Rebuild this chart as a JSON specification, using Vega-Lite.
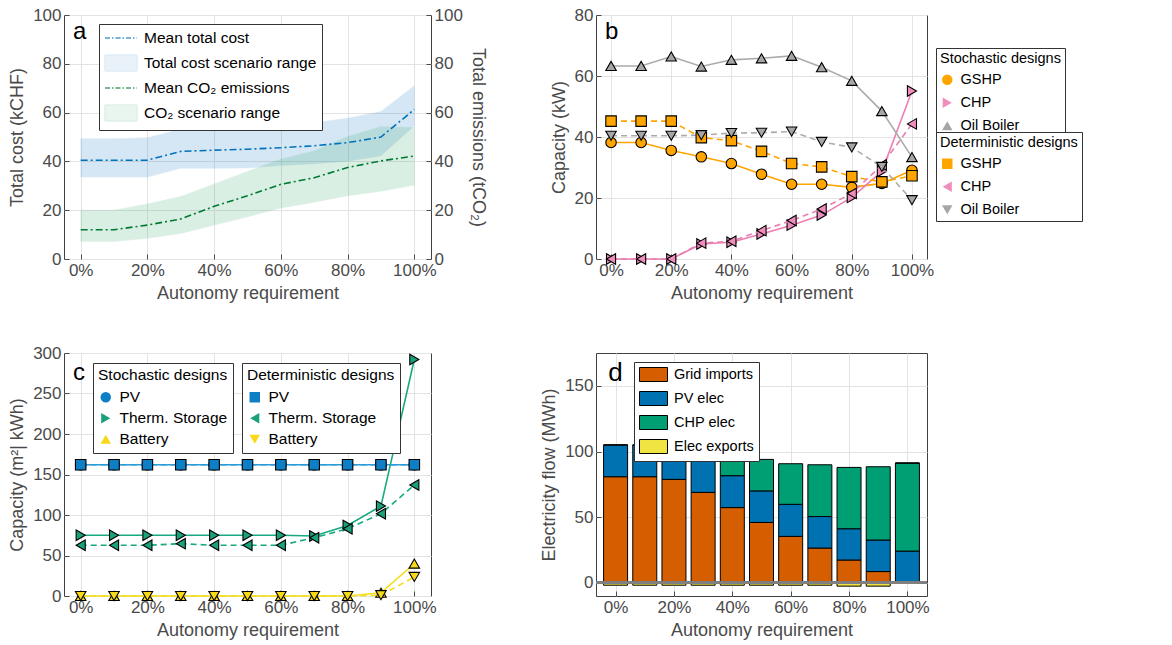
{
  "$schema": "https://vega.github.io/schema/vega-lite/v6.json",
  "padding": {"left": 8, "top": 5, "right": 0, "bottom": 0},
  "datasets": {
    "a": [
      {"x": 0, "cost_mean": 40.5, "cost_lo": 33.6, "cost_hi": 49.3, "co2_mean": 12, "co2_lo": 7.2, "co2_hi": 20},
      {"x": 10, "cost_mean": 40.5, "cost_lo": 33.6, "cost_hi": 49.3, "co2_mean": 12, "co2_lo": 7.2, "co2_hi": 20},
      {"x": 20, "cost_mean": 40.5, "cost_lo": 33.6, "cost_hi": 49.7, "co2_mean": 13.9, "co2_lo": 8.5, "co2_hi": 22.5},
      {"x": 30, "cost_mean": 44.1, "cost_lo": 37.2, "cost_hi": 53.2, "co2_mean": 16.4, "co2_lo": 10.5, "co2_hi": 25.6},
      {"x": 40, "cost_mean": 44.6, "cost_lo": 37.2, "cost_hi": 53.6, "co2_mean": 21.6, "co2_lo": 13.9, "co2_hi": 30.7},
      {"x": 50, "cost_mean": 45, "cost_lo": 37.3, "cost_hi": 54.2, "co2_mean": 25.9, "co2_lo": 17.3, "co2_hi": 35.9},
      {"x": 60, "cost_mean": 45.6, "cost_lo": 38.3, "cost_hi": 54.7, "co2_mean": 30.6, "co2_lo": 20.9, "co2_hi": 40.9},
      {"x": 70, "cost_mean": 46.4, "cost_lo": 39, "cost_hi": 55.8, "co2_mean": 33.3, "co2_lo": 23.3, "co2_hi": 44.3},
      {"x": 80, "cost_mean": 47.7, "cost_lo": 40.1, "cost_hi": 57.7, "co2_mean": 37.5, "co2_lo": 25.9, "co2_hi": 50.2},
      {"x": 90, "cost_mean": 50, "cost_lo": 42.3, "cost_hi": 60.4, "co2_mean": 40.2, "co2_lo": 27.8, "co2_hi": 54.2},
      {"x": 100, "cost_mean": 61.3, "cost_lo": 54.6, "cost_hi": 71, "co2_mean": 42.2, "co2_lo": 30.3, "co2_hi": 53.9}
    ],
    "b": [
      {"x": 0, "tech": "GSHP", "design": "Stochastic", "v": 38.2},
      {"x": 10, "tech": "GSHP", "design": "Stochastic", "v": 38.2},
      {"x": 20, "tech": "GSHP", "design": "Stochastic", "v": 35.6},
      {"x": 30, "tech": "GSHP", "design": "Stochastic", "v": 33.5},
      {"x": 40, "tech": "GSHP", "design": "Stochastic", "v": 31.3},
      {"x": 50, "tech": "GSHP", "design": "Stochastic", "v": 27.8},
      {"x": 60, "tech": "GSHP", "design": "Stochastic", "v": 24.5},
      {"x": 70, "tech": "GSHP", "design": "Stochastic", "v": 24.5},
      {"x": 80, "tech": "GSHP", "design": "Stochastic", "v": 23.5},
      {"x": 90, "tech": "GSHP", "design": "Stochastic", "v": 24.8},
      {"x": 100, "tech": "GSHP", "design": "Stochastic", "v": 29.1},
      {"x": 0, "tech": "CHP", "design": "Stochastic", "v": 0},
      {"x": 10, "tech": "CHP", "design": "Stochastic", "v": 0},
      {"x": 20, "tech": "CHP", "design": "Stochastic", "v": 0},
      {"x": 30, "tech": "CHP", "design": "Stochastic", "v": 4.9},
      {"x": 40, "tech": "CHP", "design": "Stochastic", "v": 5.5},
      {"x": 50, "tech": "CHP", "design": "Stochastic", "v": 8.2},
      {"x": 60, "tech": "CHP", "design": "Stochastic", "v": 11.1},
      {"x": 70, "tech": "CHP", "design": "Stochastic", "v": 14.4},
      {"x": 80, "tech": "CHP", "design": "Stochastic", "v": 20.2},
      {"x": 90, "tech": "CHP", "design": "Stochastic", "v": 28.7},
      {"x": 100, "tech": "CHP", "design": "Stochastic", "v": 55.1},
      {"x": 0, "tech": "Oil Boiler", "design": "Stochastic", "v": 63.3},
      {"x": 10, "tech": "Oil Boiler", "design": "Stochastic", "v": 63.3},
      {"x": 20, "tech": "Oil Boiler", "design": "Stochastic", "v": 66.4},
      {"x": 30, "tech": "Oil Boiler", "design": "Stochastic", "v": 63.1},
      {"x": 40, "tech": "Oil Boiler", "design": "Stochastic", "v": 65.3},
      {"x": 50, "tech": "Oil Boiler", "design": "Stochastic", "v": 65.8},
      {"x": 60, "tech": "Oil Boiler", "design": "Stochastic", "v": 66.6},
      {"x": 70, "tech": "Oil Boiler", "design": "Stochastic", "v": 62.9},
      {"x": 80, "tech": "Oil Boiler", "design": "Stochastic", "v": 58.4},
      {"x": 90, "tech": "Oil Boiler", "design": "Stochastic", "v": 48.5},
      {"x": 100, "tech": "Oil Boiler", "design": "Stochastic", "v": 33.4},
      {"x": 0, "tech": "GSHP", "design": "Deterministic", "v": 45.2},
      {"x": 10, "tech": "GSHP", "design": "Deterministic", "v": 45.2},
      {"x": 20, "tech": "GSHP", "design": "Deterministic", "v": 45.2},
      {"x": 30, "tech": "GSHP", "design": "Deterministic", "v": 39.8},
      {"x": 40, "tech": "GSHP", "design": "Deterministic", "v": 38.8},
      {"x": 50, "tech": "GSHP", "design": "Deterministic", "v": 35.3},
      {"x": 60, "tech": "GSHP", "design": "Deterministic", "v": 31.3},
      {"x": 70, "tech": "GSHP", "design": "Deterministic", "v": 30.2},
      {"x": 80, "tech": "GSHP", "design": "Deterministic", "v": 27},
      {"x": 90, "tech": "GSHP", "design": "Deterministic", "v": 25.3},
      {"x": 100, "tech": "GSHP", "design": "Deterministic", "v": 27.3},
      {"x": 0, "tech": "CHP", "design": "Deterministic", "v": 0},
      {"x": 10, "tech": "CHP", "design": "Deterministic", "v": 0},
      {"x": 20, "tech": "CHP", "design": "Deterministic", "v": 0},
      {"x": 30, "tech": "CHP", "design": "Deterministic", "v": 5.2},
      {"x": 40, "tech": "CHP", "design": "Deterministic", "v": 5.8},
      {"x": 50, "tech": "CHP", "design": "Deterministic", "v": 9.3},
      {"x": 60, "tech": "CHP", "design": "Deterministic", "v": 12.6},
      {"x": 70, "tech": "CHP", "design": "Deterministic", "v": 16.4},
      {"x": 80, "tech": "CHP", "design": "Deterministic", "v": 21.5},
      {"x": 90, "tech": "CHP", "design": "Deterministic", "v": 30.8},
      {"x": 100, "tech": "CHP", "design": "Deterministic", "v": 44.3},
      {"x": 0, "tech": "Oil Boiler", "design": "Deterministic", "v": 40.4},
      {"x": 10, "tech": "Oil Boiler", "design": "Deterministic", "v": 40.4},
      {"x": 20, "tech": "Oil Boiler", "design": "Deterministic", "v": 40.4},
      {"x": 30, "tech": "Oil Boiler", "design": "Deterministic", "v": 40.6},
      {"x": 40, "tech": "Oil Boiler", "design": "Deterministic", "v": 41.3},
      {"x": 50, "tech": "Oil Boiler", "design": "Deterministic", "v": 41.4},
      {"x": 60, "tech": "Oil Boiler", "design": "Deterministic", "v": 41.8},
      {"x": 70, "tech": "Oil Boiler", "design": "Deterministic", "v": 38.4},
      {"x": 80, "tech": "Oil Boiler", "design": "Deterministic", "v": 36.6},
      {"x": 90, "tech": "Oil Boiler", "design": "Deterministic", "v": 30.2},
      {"x": 100, "tech": "Oil Boiler", "design": "Deterministic", "v": 19.3}
    ],
    "c": [
      {"x": 0, "tech": "PV", "design": "Stochastic", "v": 162},
      {"x": 10, "tech": "PV", "design": "Stochastic", "v": 162},
      {"x": 20, "tech": "PV", "design": "Stochastic", "v": 162},
      {"x": 30, "tech": "PV", "design": "Stochastic", "v": 162},
      {"x": 40, "tech": "PV", "design": "Stochastic", "v": 162},
      {"x": 50, "tech": "PV", "design": "Stochastic", "v": 162},
      {"x": 60, "tech": "PV", "design": "Stochastic", "v": 162},
      {"x": 70, "tech": "PV", "design": "Stochastic", "v": 162},
      {"x": 80, "tech": "PV", "design": "Stochastic", "v": 162},
      {"x": 90, "tech": "PV", "design": "Stochastic", "v": 162},
      {"x": 100, "tech": "PV", "design": "Stochastic", "v": 162},
      {"x": 0, "tech": "Therm. Storage", "design": "Stochastic", "v": 75},
      {"x": 10, "tech": "Therm. Storage", "design": "Stochastic", "v": 75},
      {"x": 20, "tech": "Therm. Storage", "design": "Stochastic", "v": 75},
      {"x": 30, "tech": "Therm. Storage", "design": "Stochastic", "v": 75},
      {"x": 40, "tech": "Therm. Storage", "design": "Stochastic", "v": 75},
      {"x": 50, "tech": "Therm. Storage", "design": "Stochastic", "v": 75},
      {"x": 60, "tech": "Therm. Storage", "design": "Stochastic", "v": 75},
      {"x": 70, "tech": "Therm. Storage", "design": "Stochastic", "v": 74},
      {"x": 80, "tech": "Therm. Storage", "design": "Stochastic", "v": 87},
      {"x": 90, "tech": "Therm. Storage", "design": "Stochastic", "v": 111},
      {"x": 100, "tech": "Therm. Storage", "design": "Stochastic", "v": 292},
      {"x": 0, "tech": "Battery", "design": "Stochastic", "v": 0},
      {"x": 10, "tech": "Battery", "design": "Stochastic", "v": 0},
      {"x": 20, "tech": "Battery", "design": "Stochastic", "v": 0},
      {"x": 30, "tech": "Battery", "design": "Stochastic", "v": 0},
      {"x": 40, "tech": "Battery", "design": "Stochastic", "v": 0},
      {"x": 50, "tech": "Battery", "design": "Stochastic", "v": 0},
      {"x": 60, "tech": "Battery", "design": "Stochastic", "v": 0},
      {"x": 70, "tech": "Battery", "design": "Stochastic", "v": 0},
      {"x": 80, "tech": "Battery", "design": "Stochastic", "v": 0},
      {"x": 90, "tech": "Battery", "design": "Stochastic", "v": 4},
      {"x": 100, "tech": "Battery", "design": "Stochastic", "v": 40},
      {"x": 0, "tech": "PV", "design": "Deterministic", "v": 162},
      {"x": 10, "tech": "PV", "design": "Deterministic", "v": 162},
      {"x": 20, "tech": "PV", "design": "Deterministic", "v": 162},
      {"x": 30, "tech": "PV", "design": "Deterministic", "v": 162},
      {"x": 40, "tech": "PV", "design": "Deterministic", "v": 162},
      {"x": 50, "tech": "PV", "design": "Deterministic", "v": 162},
      {"x": 60, "tech": "PV", "design": "Deterministic", "v": 162},
      {"x": 70, "tech": "PV", "design": "Deterministic", "v": 162},
      {"x": 80, "tech": "PV", "design": "Deterministic", "v": 162},
      {"x": 90, "tech": "PV", "design": "Deterministic", "v": 162},
      {"x": 100, "tech": "PV", "design": "Deterministic", "v": 162},
      {"x": 0, "tech": "Therm. Storage", "design": "Deterministic", "v": 62.6},
      {"x": 10, "tech": "Therm. Storage", "design": "Deterministic", "v": 62.6},
      {"x": 20, "tech": "Therm. Storage", "design": "Deterministic", "v": 62.6},
      {"x": 30, "tech": "Therm. Storage", "design": "Deterministic", "v": 64.6},
      {"x": 40, "tech": "Therm. Storage", "design": "Deterministic", "v": 62.6},
      {"x": 50, "tech": "Therm. Storage", "design": "Deterministic", "v": 62.6},
      {"x": 60, "tech": "Therm. Storage", "design": "Deterministic", "v": 62.6},
      {"x": 70, "tech": "Therm. Storage", "design": "Deterministic", "v": 72},
      {"x": 80, "tech": "Therm. Storage", "design": "Deterministic", "v": 83},
      {"x": 90, "tech": "Therm. Storage", "design": "Deterministic", "v": 101.6},
      {"x": 100, "tech": "Therm. Storage", "design": "Deterministic", "v": 137},
      {"x": 0, "tech": "Battery", "design": "Deterministic", "v": 0},
      {"x": 10, "tech": "Battery", "design": "Deterministic", "v": 0},
      {"x": 20, "tech": "Battery", "design": "Deterministic", "v": 0},
      {"x": 30, "tech": "Battery", "design": "Deterministic", "v": 0},
      {"x": 40, "tech": "Battery", "design": "Deterministic", "v": 0},
      {"x": 50, "tech": "Battery", "design": "Deterministic", "v": 0},
      {"x": 60, "tech": "Battery", "design": "Deterministic", "v": 0},
      {"x": 70, "tech": "Battery", "design": "Deterministic", "v": 0},
      {"x": 80, "tech": "Battery", "design": "Deterministic", "v": 0},
      {"x": 90, "tech": "Battery", "design": "Deterministic", "v": 1},
      {"x": 100, "tech": "Battery", "design": "Deterministic", "v": 23.5}
    ],
    "d": [
      {"x": 0, "flow": "Grid imports", "v": 80.8}, {"x": 0, "flow": "PV elec", "v": 24.2}, {"x": 0, "flow": "CHP elec", "v": 0}, {"x": 0, "flow": "Elec exports", "v": -1.8},
      {"x": 10, "flow": "Grid imports", "v": 80.8}, {"x": 10, "flow": "PV elec", "v": 24.2}, {"x": 10, "flow": "CHP elec", "v": 0}, {"x": 10, "flow": "Elec exports", "v": -1.8},
      {"x": 20, "flow": "Grid imports", "v": 78.8}, {"x": 20, "flow": "PV elec", "v": 24.2}, {"x": 20, "flow": "CHP elec", "v": 0}, {"x": 20, "flow": "Elec exports", "v": -1.8},
      {"x": 30, "flow": "Grid imports", "v": 68.9}, {"x": 30, "flow": "PV elec", "v": 24.3}, {"x": 30, "flow": "CHP elec", "v": 8.3}, {"x": 30, "flow": "Elec exports", "v": -1.8},
      {"x": 40, "flow": "Grid imports", "v": 57.3}, {"x": 40, "flow": "PV elec", "v": 24.3}, {"x": 40, "flow": "CHP elec", "v": 15.9}, {"x": 40, "flow": "Elec exports", "v": -1.8},
      {"x": 50, "flow": "Grid imports", "v": 46}, {"x": 50, "flow": "PV elec", "v": 24}, {"x": 50, "flow": "CHP elec", "v": 24}, {"x": 50, "flow": "Elec exports", "v": -1.8},
      {"x": 60, "flow": "Grid imports", "v": 35.4}, {"x": 60, "flow": "PV elec", "v": 24.4}, {"x": 60, "flow": "CHP elec", "v": 30.9}, {"x": 60, "flow": "Elec exports", "v": -1.8},
      {"x": 70, "flow": "Grid imports", "v": 26.5}, {"x": 70, "flow": "PV elec", "v": 24}, {"x": 70, "flow": "CHP elec", "v": 39.4}, {"x": 70, "flow": "Elec exports", "v": -1.8},
      {"x": 80, "flow": "Grid imports", "v": 17.4}, {"x": 80, "flow": "PV elec", "v": 23.8}, {"x": 80, "flow": "CHP elec", "v": 46.7}, {"x": 80, "flow": "Elec exports", "v": -2.5},
      {"x": 90, "flow": "Grid imports", "v": 8.6}, {"x": 90, "flow": "PV elec", "v": 24}, {"x": 90, "flow": "CHP elec", "v": 55.8}, {"x": 90, "flow": "Elec exports", "v": -2.5},
      {"x": 100, "flow": "Grid imports", "v": 0}, {"x": 100, "flow": "PV elec", "v": 24.2}, {"x": 100, "flow": "CHP elec", "v": 67}, {"x": 100, "flow": "Elec exports", "v": 0}
    ]
  },
  "vconcat": [
    {
      "hconcat": [
        {
          "width": 367, "height": 244,
          "data": {"name": "a"},
          "layer": [
            {
              "layer": [
                {
                  "mark": {"type": "area", "color": "#0072BD", "opacity": 0.16, "stroke": "#0072BD", "strokeOpacity": 0.45, "strokeWidth": 1},
                  "encoding": {
                    "x": {"field": "x", "type": "quantitative", "scale": {"domain": [-5, 105], "nice": false, "zero": false}, "axis": {"values": [0, 10, 20, 30, 40, 50, 60, 70, 80, 90, 100], "labelExpr": "datum.value % 20 === 0 ? datum.value + '%' : ''", "labelOverlap": false, "labelFlush": false}, "title": "Autonomy requirement"},
                    "y": {"field": "cost_hi", "type": "quantitative", "scale": {"domain": [0, 100], "nice": false}, "axis": {"values": [0, 20, 40, 60, 80, 100]}, "title": "Total cost (kCHF)"},
                    "y2": {"field": "cost_lo"}
                  }
                },
                {
                  "mark": {"type": "area", "color": "#2ca25f", "opacity": 0.17, "stroke": "#2ca25f", "strokeOpacity": 0.5, "strokeWidth": 1},
                  "encoding": {
                    "x": {"field": "x", "type": "quantitative", "title": "Autonomy requirement"},
                    "y": {"field": "co2_hi", "type": "quantitative", "title": "Total cost (kCHF)"},
                    "y2": {"field": "co2_lo"}
                  }
                },
                {
                  "mark": {"type": "line", "color": "#0072BD", "strokeWidth": 1.6, "strokeDash": [7, 3, 2, 3]},
                  "encoding": {
                    "x": {"field": "x", "type": "quantitative", "title": "Autonomy requirement"},
                    "y": {"field": "cost_mean", "type": "quantitative", "title": "Total cost (kCHF)"}
                  }
                },
                {
                  "transform": [{"filter": "datum.x > 1000"}],
                  "mark": {"type": "point", "filled": true},
                  "encoding": {
                    "x": {"field": "x", "type": "quantitative", "title": "Autonomy requirement"},
                    "y": {"field": "cost_mean", "type": "quantitative", "title": "Total cost (kCHF)"},
                    "shape": {"field": "series", "type": "nominal", "scale": {"domain": ["Mean total cost", "Total cost scenario range", "Mean CO₂ emissions", "CO₂ scenario range"], "range": ["M-1,0H3", "M-1,-1H3V1H-1Z", "M-1,0H3", "M-1,-1H3V1H-1Z"]}, "legend": {"title": null, "orient": "none", "legendX": 35, "legendY": 9, "symbolSize": 256, "labelFontSize": 15.5, "labelLimit": 400, "labelOffset": 22, "rowPadding": 4, "padding": 5, "symbolStrokeWidth": 1.6, "strokeColor": "#333333", "fillColor": "white"}},
                    "fill": {"field": "series", "type": "nominal", "scale": {"domain": ["Mean total cost", "Total cost scenario range", "Mean CO₂ emissions", "CO₂ scenario range"], "range": ["transparent", "#d6e6f4", "transparent", "#d4ecdf"]}},
                    "stroke": {"field": "series", "type": "nominal", "scale": {"domain": ["Mean total cost", "Total cost scenario range", "Mean CO₂ emissions", "CO₂ scenario range"], "range": ["#0072BD", "#d6e6f4", "#007a33", "#d4ecdf"]}},
                    "strokeDash": {"field": "series", "type": "nominal", "scale": {"domain": ["Mean total cost", "Total cost scenario range", "Mean CO₂ emissions", "CO₂ scenario range"], "range": [[5, 2, 1.5, 2], [1, 0], [5, 2, 1.5, 2], [1, 0]]}}
                  }
                },
                {
                  "data": {"values": [{"label": "a"}]},
                  "mark": {"type": "text", "fontSize": 24, "align": "left", "baseline": "middle", "color": "black"},
                  "encoding": {
                    "x": {"datum": -2.3},
                    "y": {"datum": 93},
                    "text": {"field": "label"}
                  }
                }
              ]
            },
            {
              "mark": {"type": "line", "color": "#007a33", "strokeWidth": 1.6, "strokeDash": [7, 3, 2, 3]},
              "encoding": {
                "x": {"field": "x", "type": "quantitative", "title": "Autonomy requirement"},
                "y": {"field": "co2_mean", "type": "quantitative", "scale": {"domain": [0, 100], "nice": false}, "axis": {"orient": "right", "values": [0, 20, 40, 60, 80, 100], "grid": false}, "title": "Total emissions (tCO₂)"}
              }
            }
          ],
          "resolve": {"scale": {"y": "independent"}}
        },
        {
          "width": 331, "height": 244,
          "data": {"name": "b"},
          "layer": [
            {
              "transform": [{"filter": "datum.design === 'Stochastic'"}],
              "layer": [
                {
                  "mark": {"type": "line", "strokeWidth": 1.6},
                  "encoding": {
                    "x": {"field": "x", "type": "quantitative", "scale": {"domain": [-5, 105], "nice": false, "zero": false}, "axis": {"values": [0, 10, 20, 30, 40, 50, 60, 70, 80, 90, 100], "labelExpr": "datum.value % 20 === 0 ? datum.value + '%' : ''", "labelOverlap": false, "labelFlush": false}, "title": "Autonomy requirement"},
                    "y": {"field": "v", "type": "quantitative", "scale": {"domain": [0, 80], "nice": false}, "axis": {"values": [0, 20, 40, 60, 80]}, "title": "Capacity (kW)"},
                    "stroke": {"field": "tech", "type": "nominal", "scale": {"domain": ["GSHP", "CHP", "Oil Boiler"], "range": ["#FFA500", "#EA7FB1", "#ABABAB"]}, "legend": null}
                  }
                },
                {
                  "mark": {"type": "point", "filled": true, "size": 110, "stroke": "black", "strokeWidth": 1.1, "opacity": 1},
                  "encoding": {
                    "x": {"field": "x", "type": "quantitative", "title": "Autonomy requirement"},
                    "y": {"field": "v", "type": "quantitative", "title": "Capacity (kW)"},
                    "fill": {"field": "tech", "type": "nominal", "scale": {"domain": ["GSHP", "CHP", "Oil Boiler"], "range": ["#FFA500", "#F08DBD", "#A6A6A6"]}, "legend": {"title": "Stochastic designs", "orient": "none", "legendX": 340, "legendY": 33, "labelFontSize": 14.5, "titleFontSize": 14.5, "rowPadding": 7, "padding": 4, "titlePadding": 6, "symbolStrokeColor": "black", "encode": {"symbols": {"update": {"stroke": {"value": "black"}, "strokeWidth": {"value": 1.1}}}}}},
                    "shape": {"field": "tech", "type": "nominal", "scale": {"domain": ["GSHP", "CHP", "Oil Boiler"], "range": ["circle", "triangle-right", "triangle-up"]}, "legend": {"title": "Stochastic designs", "orient": "none", "legendX": 340, "legendY": 33, "labelFontSize": 14.5, "titleFontSize": 14.5, "rowPadding": 7, "padding": 4, "titlePadding": 6, "symbolStrokeColor": "black", "encode": {"symbols": {"update": {"stroke": {"value": "black"}, "strokeWidth": {"value": 1.1}}}}}}
                  }
                }
              ],
              "resolve": {"scale": {"stroke": "independent"}}
            },
            {
              "transform": [{"filter": "datum.design === 'Deterministic'"}],
              "layer": [
                {
                  "mark": {"type": "line", "strokeWidth": 1.6, "strokeDash": [6, 4]},
                  "encoding": {
                    "x": {"field": "x", "type": "quantitative", "title": "Autonomy requirement"},
                    "y": {"field": "v", "type": "quantitative", "title": "Capacity (kW)"},
                    "stroke": {"field": "tech", "type": "nominal", "scale": {"domain": ["GSHP", "CHP", "Oil Boiler"], "range": ["#FFA500", "#EA7FB1", "#ABABAB"]}, "legend": null}
                  }
                },
                {
                  "mark": {"type": "point", "filled": true, "size": 110, "stroke": "black", "strokeWidth": 1.1, "opacity": 1},
                  "encoding": {
                    "x": {"field": "x", "type": "quantitative", "title": "Autonomy requirement"},
                    "y": {"field": "v", "type": "quantitative", "title": "Capacity (kW)"},
                    "fill": {"field": "tech", "type": "nominal", "scale": {"domain": ["GSHP", "CHP", "Oil Boiler"], "range": ["#FFA500", "#F08DBD", "#A6A6A6"]}, "legend": {"title": "Deterministic designs", "orient": "none", "legendX": 340, "legendY": 117, "labelFontSize": 14.5, "titleFontSize": 14.5, "rowPadding": 7, "padding": 4, "titlePadding": 6, "symbolStrokeColor": "black", "encode": {"symbols": {"update": {"stroke": {"value": "black"}, "strokeWidth": {"value": 1.1}}}}}},
                    "shape": {"field": "tech", "type": "nominal", "scale": {"domain": ["GSHP", "CHP", "Oil Boiler"], "range": ["square", "triangle-left", "triangle-down"]}, "legend": {"title": "Deterministic designs", "orient": "none", "legendX": 340, "legendY": 117, "labelFontSize": 14.5, "titleFontSize": 14.5, "rowPadding": 7, "padding": 4, "titlePadding": 6, "symbolStrokeColor": "black", "encode": {"symbols": {"update": {"stroke": {"value": "black"}, "strokeWidth": {"value": 1.1}}}}}}
                  }
                }
              ],
              "resolve": {"scale": {"stroke": "independent"}}
            },
            {
              "data": {"values": [{"label": "b"}]},
              "mark": {"type": "text", "fontSize": 24, "align": "left", "baseline": "middle", "color": "black"},
              "encoding": {
                "x": {"datum": -2},
                "y": {"datum": 74.5},
                "text": {"field": "label"}
              }
            }
          ],
          "resolve": {"scale": {"fill": "independent", "shape": "independent", "stroke": "independent"}}
        }
      ],
      "spacing": 62,
      "resolve": {"scale": {"fill": "independent", "shape": "independent", "stroke": "independent", "strokeDash": "independent"}}
    },
    {
      "hconcat": [
        {
          "width": 367, "height": 243,
          "data": {"name": "c"},
          "layer": [
            {
              "transform": [{"filter": "datum.design === 'Stochastic'"}],
              "layer": [
                {
                  "mark": {"type": "line", "strokeWidth": 1.6},
                  "encoding": {
                    "x": {"field": "x", "type": "quantitative", "scale": {"domain": [-5, 105], "nice": false, "zero": false}, "axis": {"values": [0, 10, 20, 30, 40, 50, 60, 70, 80, 90, 100], "labelExpr": "datum.value % 20 === 0 ? datum.value + '%' : ''", "labelOverlap": false, "labelFlush": false}, "title": "Autonomy requirement"},
                    "y": {"field": "v", "type": "quantitative", "scale": {"domain": [0, 300], "nice": false}, "axis": {"values": [0, 50, 100, 150, 200, 250, 300]}, "title": "Capacity (m²| kWh)"},
                    "stroke": {"field": "tech", "type": "nominal", "scale": {"domain": ["PV", "Therm. Storage", "Battery"], "range": ["#2A9CD8", "#17AA80", "#F4DE1E"]}, "legend": null}
                  }
                },
                {
                  "mark": {"type": "point", "filled": true, "size": 110, "stroke": "black", "strokeWidth": 1.1, "opacity": 1},
                  "encoding": {
                    "x": {"field": "x", "type": "quantitative", "title": "Autonomy requirement"},
                    "y": {"field": "v", "type": "quantitative", "title": "Capacity (m²| kWh)"},
                    "fill": {"field": "tech", "type": "nominal", "scale": {"domain": ["PV", "Therm. Storage", "Battery"], "range": ["#0E7FC4", "#1AA07A", "#F7D91A"]}, "legend": {"title": "Stochastic designs", "orient": "none", "legendX": 29, "legendY": 10, "labelFontSize": 15.5, "titleFontSize": 15.5, "rowPadding": 4, "padding": 5, "titlePadding": 6, "symbolStrokeColor": "black", "encode": {"symbols": {"update": {"stroke": {"value": "black"}, "strokeWidth": {"value": 1.1}}}}}},
                    "shape": {"field": "tech", "type": "nominal", "scale": {"domain": ["PV", "Therm. Storage", "Battery"], "range": ["circle", "triangle-right", "triangle-up"]}, "legend": {"title": "Stochastic designs", "orient": "none", "legendX": 29, "legendY": 10, "labelFontSize": 15.5, "titleFontSize": 15.5, "rowPadding": 4, "padding": 5, "titlePadding": 6, "symbolStrokeColor": "black", "encode": {"symbols": {"update": {"stroke": {"value": "black"}, "strokeWidth": {"value": 1.1}}}}}}
                  }
                }
              ],
              "resolve": {"scale": {"stroke": "independent"}}
            },
            {
              "transform": [{"filter": "datum.design === 'Deterministic'"}],
              "layer": [
                {
                  "mark": {"type": "line", "strokeWidth": 1.6, "strokeDash": [6, 4]},
                  "encoding": {
                    "x": {"field": "x", "type": "quantitative", "title": "Autonomy requirement"},
                    "y": {"field": "v", "type": "quantitative", "title": "Capacity (m²| kWh)"},
                    "stroke": {"field": "tech", "type": "nominal", "scale": {"domain": ["PV", "Therm. Storage", "Battery"], "range": ["#2A9CD8", "#17AA80", "#F4DE1E"]}, "legend": null}
                  }
                },
                {
                  "mark": {"type": "point", "filled": true, "size": 110, "stroke": "black", "strokeWidth": 1.1, "opacity": 1},
                  "encoding": {
                    "x": {"field": "x", "type": "quantitative", "title": "Autonomy requirement"},
                    "y": {"field": "v", "type": "quantitative", "title": "Capacity (m²| kWh)"},
                    "fill": {"field": "tech", "type": "nominal", "scale": {"domain": ["PV", "Therm. Storage", "Battery"], "range": ["#0E7FC4", "#1AA07A", "#F7D91A"]}, "legend": {"title": "Deterministic designs", "orient": "none", "legendX": 178, "legendY": 10, "labelFontSize": 15.5, "titleFontSize": 15.5, "rowPadding": 4, "padding": 5, "titlePadding": 6, "symbolStrokeColor": "black", "encode": {"symbols": {"update": {"stroke": {"value": "black"}, "strokeWidth": {"value": 1.1}}}}}},
                    "shape": {"field": "tech", "type": "nominal", "scale": {"domain": ["PV", "Therm. Storage", "Battery"], "range": ["square", "triangle-left", "triangle-down"]}, "legend": {"title": "Deterministic designs", "orient": "none", "legendX": 178, "legendY": 10, "labelFontSize": 15.5, "titleFontSize": 15.5, "rowPadding": 4, "padding": 5, "titlePadding": 6, "symbolStrokeColor": "black", "encode": {"symbols": {"update": {"stroke": {"value": "black"}, "strokeWidth": {"value": 1.1}}}}}}
                  }
                }
              ],
              "resolve": {"scale": {"stroke": "independent"}}
            },
            {
              "data": {"values": [{"label": "c"}]},
              "mark": {"type": "text", "fontSize": 24, "align": "left", "baseline": "middle", "color": "black"},
              "encoding": {
                "x": {"datum": -2.3},
                "y": {"datum": 275},
                "text": {"field": "label"}
              }
            }
          ],
          "resolve": {"scale": {"fill": "independent", "shape": "independent", "stroke": "independent"}}
        },
        {
          "width": 331, "height": 243,
          "data": {"name": "d"},
          "layer": [
            {
              "transform": [{"calculate": "indexof(['Grid imports', 'PV elec', 'CHP elec', 'Elec exports'], datum.flow)", "as": "k"}],
              "mark": {"type": "bar", "width": 24, "stroke": "black", "strokeWidth": 1},
              "encoding": {
                "x": {"field": "x", "type": "quantitative", "scale": {"domain": [-5, 105], "nice": false, "zero": false}, "axis": {"values": [0, 10, 20, 30, 40, 50, 60, 70, 80, 90, 100], "labelExpr": "datum.value % 20 === 0 ? datum.value + '%' : ''", "labelOverlap": false, "labelFlush": false}, "title": "Autonomy requirement"},
                "y": {"field": "v", "type": "quantitative", "stack": "zero", "scale": {"domain": [-10, 175], "nice": false, "zero": false}, "axis": {"values": [0, 50, 100, 150]}, "title": "Electricity flow (MWh)"},
                "fill": {"field": "flow", "type": "nominal", "scale": {"domain": ["Grid imports", "PV elec", "CHP elec", "Elec exports"], "range": ["#D55E00", "#0072B2", "#009E73", "#F0E442"]}, "legend": {"title": null, "orient": "none", "legendX": 38, "legendY": 9, "symbolType": "M-1,-1H3V1H-1Z", "symbolSize": 196, "labelOffset": 20, "labelFontSize": 14.5, "rowPadding": 5, "padding": 5, "encode": {"symbols": {"update": {"stroke": {"value": "black"}, "strokeWidth": {"value": 1}}}}}},
                "order": {"field": "k", "type": "quantitative", "sort": "ascending"}
              }
            },
            {
              "mark": {"type": "rule", "color": "#808080", "strokeWidth": 2},
              "encoding": {"y": {"datum": 0}}
            },
            {
              "data": {"values": [{"label": "d"}]},
              "mark": {"type": "text", "fontSize": 26, "align": "left", "baseline": "middle", "color": "black"},
              "encoding": {
                "x": {"datum": -2.5},
                "y": {"datum": 160},
                "text": {"field": "label"}
              }
            }
          ]
        }
      ],
      "spacing": 103,
      "resolve": {"scale": {"fill": "independent", "shape": "independent", "stroke": "independent", "strokeDash": "independent"}}
    }
  ],
  "spacing": 40,
  "resolve": {"scale": {"fill": "independent", "shape": "independent", "stroke": "independent", "strokeDash": "independent"}},
  "config": {
    "font": "Liberation Sans",
    "view": {"stroke": "#404040", "strokeWidth": 1},
    "axis": {"labelFontSize": 17, "labelColor": "#4a4a4a", "titleFontSize": 18, "titleFontWeight": "normal", "titleColor": "#4a4a4a", "domain": false, "tickColor": "#4a4a4a", "tickSize": -5, "labelPadding": 8, "gridColor": "#e3e3e3", "grid": true, "titlePadding": 6},
    "legend": {"labelFontSize": 16, "labelColor": "black", "titleFontSize": 16, "titleFontWeight": "normal", "titleColor": "black", "fillColor": "white", "strokeColor": "#333333", "padding": 6, "rowPadding": 3, "titlePadding": 4, "symbolStrokeColor": "black", "symbolStrokeWidth": 1.1, "symbolSize": 110, "labelOffset": 6, "labelLimit": 400}
  }
}
